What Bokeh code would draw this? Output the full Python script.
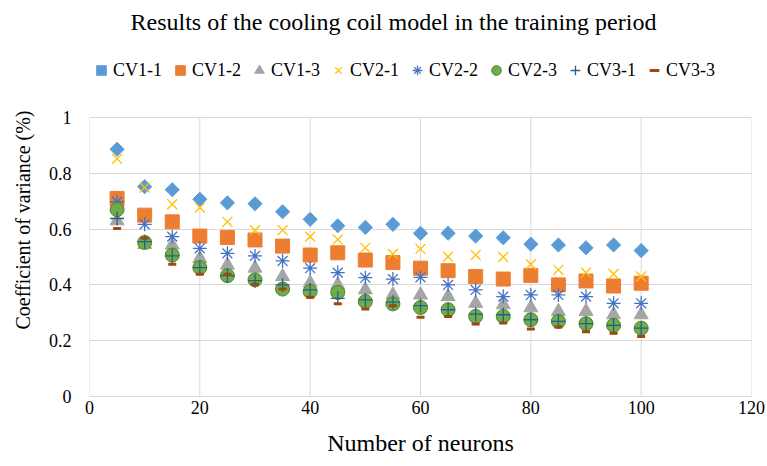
import numpy as np
from bokeh.plotting import figure
from bokeh.models import (Legend, LegendItem, FixedTicker, CustomJSTickFormatter,
                          Range1d, Title)
from bokeh.embed import file_html
from bokeh.resources import INLINE

# ---- data ----
neurons = [5, 10, 15, 20, 25, 30, 35, 40, 45, 50, 55, 60, 65, 70, 75, 80, 85, 90, 95, 100]
cv1_1 = [0.886, 0.752, 0.741, 0.707, 0.694, 0.691, 0.662, 0.635, 0.612, 0.606, 0.617,
         0.585, 0.585, 0.575, 0.569, 0.546, 0.543, 0.533, 0.543, 0.523]
cv1_2 = [0.710, 0.650, 0.626, 0.575, 0.570, 0.561, 0.539, 0.507, 0.515, 0.489, 0.480,
         0.460, 0.451, 0.430, 0.421, 0.434, 0.400, 0.414, 0.396, 0.406]
cv1_3 = [0.630, 0.545, 0.543, 0.495, 0.471, 0.460, 0.430, 0.407, 0.400, 0.382, 0.364,
         0.364, 0.358, 0.334, 0.329, 0.318, 0.305, 0.305, 0.293, 0.293]
cv2_1 = [0.852, 0.749, 0.689, 0.677, 0.626, 0.596, 0.596, 0.573, 0.563, 0.533, 0.511,
         0.529, 0.501, 0.507, 0.500, 0.474, 0.454, 0.444, 0.439, 0.430]
cv2_2 = [0.698, 0.617, 0.573, 0.531, 0.513, 0.504, 0.486, 0.460, 0.444, 0.426, 0.421,
         0.427, 0.400, 0.382, 0.358, 0.364, 0.364, 0.358, 0.334, 0.334]
cv2_3 = [0.670, 0.552, 0.507, 0.462, 0.433, 0.418, 0.385, 0.376, 0.373, 0.340, 0.332,
         0.319, 0.311, 0.287, 0.287, 0.275, 0.269, 0.261, 0.255, 0.245]
cv3_1 = [0.638, 0.555, 0.504, 0.462, 0.433, 0.415, 0.400, 0.382, 0.352, 0.346, 0.338,
         0.326, 0.311, 0.295, 0.293, 0.275, 0.269, 0.261, 0.255, 0.245]
cv3_3 = [0.602, 0.567, 0.474, 0.438, 0.438, 0.402, 0.385, 0.356, 0.332, 0.314, 0.325,
         0.284, 0.287, 0.260, 0.263, 0.242, 0.249, 0.232, 0.227, 0.215]

series_names = ["CV1-1", "CV1-2", "CV1-3", "CV2-1", "CV2-2", "CV2-3", "CV3-1", "CV3-3"]
x_ticks = [0, 20, 40, 60, 80, 100, 120]
y_ticks = [0, 0.2, 0.4, 0.6, 0.8, 1.0]

TITLE_FONT = "Liberation Serif"
FONT = "Times"
GRID = "#d9d9d9"

# The frame reaches up past y=1 so that the legend row (above the plot area in the
# original) can be drawn inside it; axis ticks and grid stop at 1.
p = figure(width=767, height=462, output_backend="svg", toolbar_location=None,
           x_range=Range1d(x_ticks[0], x_ticks[-1]), y_range=Range1d(0, 1.2652),
           title=None,
           min_border_left=89, min_border_right=16, min_border_top=43,
           min_border_bottom=66)
p.outline_line_color = None
p.background_fill_color = "white"

# axes
for ax in (p.xaxis[0], p.yaxis[0]):
    ax.major_tick_line_color = None
    ax.minor_tick_line_color = None
    ax.major_tick_out = 0
    ax.major_tick_in = 0
    ax.minor_tick_out = 0
    ax.minor_tick_in = 0
    ax.major_label_text_font = FONT
    ax.major_label_text_font_size = "18px"
    ax.major_label_text_color = "black"
    ax.axis_label_text_font = FONT
    ax.axis_label_text_font_style = "normal"
    ax.axis_label_text_color = "black"

p.xaxis.axis_line_color = GRID
p.yaxis.axis_line_color = None
p.xaxis.ticker = FixedTicker(ticks=x_ticks)
p.yaxis.ticker = FixedTicker(ticks=y_ticks)
p.yaxis.formatter = CustomJSTickFormatter(code="return String(Number(tick.toFixed(2)));")
p.xaxis.axis_label = "Number of neurons"
p.xaxis.axis_label_text_font_size = "24px"
p.yaxis.axis_label = "Coefficient of variance (%)"
p.yaxis.axis_label_text_font_size = "20px"
p.xaxis.major_label_standoff = 4
p.yaxis.major_label_standoff = 18
p.xaxis.axis_label_standoff = 13
p.yaxis.axis_label_standoff = 12

# grid: horizontal lines from the y ticks, vertical lines only between y=0 and y=1
p.xgrid.visible = False
p.ygrid.ticker = FixedTicker(ticks=y_ticks)
p.ygrid.grid_line_color = GRID
p.ygrid.grid_line_width = 1
n_x = len(x_ticks)
p.segment(x0=x_ticks, y0=[y_ticks[0]] * n_x, x1=x_ticks, y1=[y_ticks[-1]] * n_x,
          line_color=GRID, line_width=1)

# series (drawn in order so later ones overlap earlier ones, like the original)
r1 = p.scatter(neurons, cv1_1, marker="square", angle=np.pi / 4, size=10,
               fill_color="#5B9BD5", line_color="#5B9BD5")
r2 = p.scatter(neurons, cv1_2, marker="square", size=14,
               fill_color="#ED7D31", line_color="#ED7D31")
r3 = p.scatter(neurons, cv1_3, marker="triangle", size=14,
               fill_color="#A5A5A5", line_color="#A5A5A5")
r4 = p.scatter(neurons, cv2_1, marker="x", size=14, line_color="#FFC000", line_width=1.3)
r5 = p.scatter(neurons, cv2_2, marker="asterisk", size=14, line_color="#4472C4", line_width=1.3)
r6 = p.scatter(neurons, cv2_3, marker="circle", size=14,
               fill_color="#70AD47", line_color="#507E32", line_width=1)
r7 = p.scatter(neurons, cv3_1, marker="cross", size=14, line_color="#255E91", line_width=1.3)
r8 = p.scatter(neurons, cv3_3, marker="dash", size=8, line_color="#9E480E", line_width=3)

renderers = [r1, r2, r3, r4, r5, r6, r7, r8]
legend = Legend(items=[LegendItem(label=n, renderers=[r]) for n, r in zip(series_names, renderers)],
                orientation="horizontal", location=(0, 311),
                glyph_width=24, glyph_height=30, label_standoff=0, spacing=6,
                padding=0, margin=0, border_line_color=None,
                background_fill_alpha=0,
                label_text_font=FONT, label_text_font_size="18px",
                label_text_color="black")
p.add_layout(legend, "center")

# main title
p.add_layout(Title(text="Results of the cooling coil model in the training period",
                   text_font=TITLE_FONT, text_font_size="24px", text_font_style="normal",
                   text_color="black", align="left", offset=41, standoff=14,
                   vertical_align="top"), "above")

open("out.html", "w").write(file_html(p, INLINE))
